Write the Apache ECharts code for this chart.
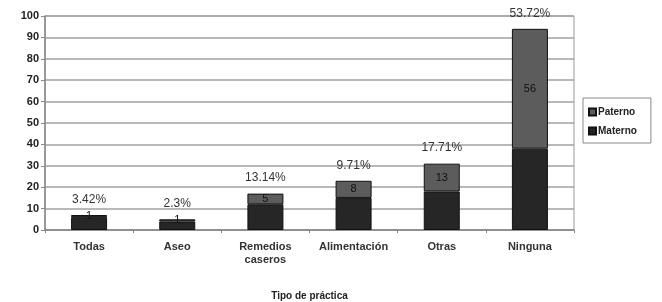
<!DOCTYPE html>
<html>
<head>
<meta charset="utf-8">
<script src="https://cdn.jsdelivr.net/npm/echarts@6/dist/echarts.min.js"></script>
<style>
  html, body { margin: 0; padding: 0; background: #fff; }
  #chart { width: 662px; height: 302px; }
</style>
</head>
<body>
<div id="chart"></div>
<script>
var categories = ['Todas', 'Aseo', 'Remedios\ncaseros', 'Alimentación', 'Otras', 'Ninguna']
var materno = [6, 4, 12, 15, 18, 38]
var paterno = [1, 1, 5, 8, 13, 56]
var percents = ['3.42%', '2.3%', '13.14%', '9.71%', '17.71%', '53.72%']

var totals = []
for (var i = 0; i < materno.length; i++) {
    totals.push(materno[i] + paterno[i])
}

var font = 'Liberation Sans, Arial, sans-serif'
var myChart = echarts.init(document.getElementById('chart'))
var option = {
    animation: false,
    textStyle: { fontFamily: font },
    grid: {
        left: 45,
        right: 88,
        top: 16,
        bottom: 72,
        outerBoundsMode: 'none',
        show: true,
        borderColor: '#999',
        borderWidth: 1
    },
    legend: {
        orient: 'vertical',
        left: 583,
        top: 98,
        data: ['Paterno', 'Materno'],
        icon: 'rect',
        itemWidth: 7,
        itemHeight: 7,
        itemGap: 9,
        padding: [9, 14, 7, 5],
        borderColor: '#888',
        borderWidth: 1,
        textStyle: { fontSize: 10, fontWeight: 'bold', color: '#222', padding: [0, 0, 0, -3] }
    },
    xAxis: {
        type: 'category',
        data: categories,
        name: 'Tipo de práctica',
        nameLocation: 'middle',
        nameGap: 61,
        nameTextStyle: { fontSize: 10, fontWeight: 'bold', color: '#222' },
        axisLine: { lineStyle: { color: '#888', width: 1.5 } },
        axisTick: { show: true, length: 3, lineStyle: { color: '#888' } },
        axisLabel: { interval: 0, fontSize: 11, fontWeight: 'bold', color: '#333', margin: 10, lineHeight: 13 }
    },
    yAxis: {
        type: 'value',
        min: 0,
        max: 100,
        interval: 10,
        axisLine: { show: true, lineStyle: { color: '#888', width: 1.5 } },
        axisTick: { show: true, length: 4, lineStyle: { color: '#888' } },
        axisLabel: { fontSize: 11, fontWeight: 'bold', color: '#222', margin: 6 },
        splitLine: { lineStyle: { color: '#a0a0a0', width: 1.5 } }
    },
    series: [
        {
            name: 'Materno',
            type: 'bar',
            stack: 'total',
            barWidth: 36,
            data: materno,
            itemStyle: { color: '#262626', borderColor: '#111', borderWidth: 1 }
        },
        {
            name: 'Paterno',
            type: 'bar',
            stack: 'total',
            barWidth: 36,
            data: paterno,
            itemStyle: { color: '#5c5c5c', borderColor: '#111', borderWidth: 1 },
            label: {
                show: true,
                position: 'inside',
                fontSize: 11,
                color: '#111'
            }
        },
        {
            name: 'pct',
            type: 'line',
            data: totals,
            symbol: 'circle',
            symbolSize: 1,
            showSymbol: true,
            lineStyle: { width: 0, color: 'transparent' },
            itemStyle: { color: 'transparent', borderWidth: 0 },
            silent: true,
            clip: false,
            z: 5,
            label: {
                show: true,
                position: 'top',
                distance: 9,
                fontSize: 12,
                color: '#333',
                formatter: function (p) { return percents[p.dataIndex] }
            }
        }
    ]
}
myChart.setOption(option)
</script>
</body>
</html>
